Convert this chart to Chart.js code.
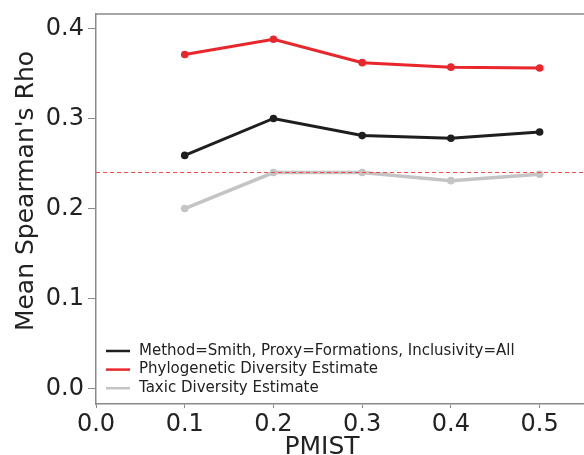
<!DOCTYPE html>
<html>
<head>
<meta charset="utf-8">
<script src="https://cdn.jsdelivr.net/npm/chart.js@4"></script>
<style>
  body { margin: 0; background: #fff; }
  canvas { display: block; }
</style>
</head>
<body>
<canvas id="Chart" width="584" height="455"></canvas>
<script>
// pmist values on the x axis
const pmist = [0.1, 0.2, 0.3, 0.4, 0.5]

// mean spearman's rho per series
const smithRho = [0.259, 0.300, 0.281, 0.278, 0.285]
const phyloRho = [0.371, 0.388, 0.362, 0.357, 0.356]
const taxicRho = [0.200, 0.240, 0.240, 0.231, 0.238]

const seriesLabels = [
    'Method=Smith, Proxy=Formations, Inclusivity=All',
    'Phylogenetic Diversity Estimate',
    'Taxic Diversity Estimate'
]
const seriesColors = ['#1e1e1e', '#e8262b', '#c4c4c4']

// dashed reference level
const refRho = 0.240

const xTitle = 'PMIST'
const yTitle = "Mean Spearman's Rho"

const axisGrey = '#8a8a8a'
const FONT = "'DejaVu Sans', Verdana, sans-serif"

function toPoints(ys) {
    return pmist.map((x, i) => ({x: x, y: ys[i]}))
}

function makeSet(label, ys, color, width) {
    return {
        label: label,
        data: toPoints(ys),
        borderColor: color,
        backgroundColor: color,
        borderWidth: width,
        pointRadius: 3.8,
        pointBorderWidth: 0,
        pointHoverRadius: 3.8,
        tension: 0
    }
}

// fixed axis box, no extra room for label overhang
function fixBox(size) {
    return function(scale) {
        if (scale.isHorizontal()) scale.height = size
        else scale.width = size
        scale.paddingTop = 0
        scale.paddingBottom = 0
        scale.paddingLeft = 0
        scale.paddingRight = 0
    }
}

// top frame, dashed reference line, legend and axis titles
const extras = {
    id: 'extras',
    afterDatasetsDraw(chart) {
        const ctx = chart.ctx
        const a = chart.chartArea
        const yPix = chart.scales.y.getPixelForValue(refRho)
        ctx.save()
        ctx.strokeStyle = '#ff4545'
        ctx.lineWidth = 1.2
        ctx.setLineDash([4, 3])
        ctx.beginPath()
        ctx.moveTo(a.left, yPix)
        ctx.lineTo(a.right, yPix)
        ctx.stroke()
        ctx.restore()
    },
    afterDraw(chart) {
        const ctx = chart.ctx
        const a = chart.chartArea
        ctx.save()
        ctx.strokeStyle = axisGrey
        ctx.lineWidth = 1.5
        ctx.beginPath()
        ctx.moveTo(a.left, a.top)
        ctx.lineTo(a.right, a.top)
        ctx.stroke()

        // legend in the lower left of the plot
        ctx.font = '15px ' + FONT
        ctx.textBaseline = 'middle'
        ctx.textAlign = 'left'
        chart.data.datasets.forEach((ds, i) => {
            const y = a.bottom - 53 + i * 18.6
            ctx.strokeStyle = ds.borderColor
            ctx.lineWidth = 2.5
            ctx.beginPath()
            ctx.moveTo(a.left + 10, y)
            ctx.lineTo(a.left + 34, y)
            ctx.stroke()
            ctx.fillStyle = '#222'
            ctx.fillText(ds.label, a.left + 43, y)
        })

        // axis titles
        ctx.fillStyle = '#222'
        ctx.font = '25px ' + FONT
        ctx.textBaseline = 'alphabetic'
        ctx.textAlign = 'center'
        ctx.fillText(xTitle, a.left + 226, chart.height - 1)
        ctx.translate(33, a.top + 177)
        ctx.rotate(-Math.PI / 2)
        ctx.fillText(yTitle, 0, 0)
        ctx.restore()
    }
}

const ctx = document.getElementById('Chart').getContext('2d')
const myChart = new Chart(ctx, {
    type: 'line',
    data: {
        datasets: [
            makeSet(seriesLabels[0], smithRho, seriesColors[0], 3),
            makeSet(seriesLabels[1], phyloRho, seriesColors[1], 3),
            makeSet(seriesLabels[2], taxicRho, seriesColors[2], 3.5)
        ]
    },
    options: {
        responsive: false,
        animation: false,
        layout: {autoPadding: false, padding: {top: 14, right: 0, left: 0, bottom: 0}},
        plugins: {
            legend: {display: false},
            tooltip: {enabled: false}
        },
        scales: {
            x: {
                type: 'linear',
                min: 0,
                max: 0.55,
                afterFit: fixBox(51),
                border: {color: axisGrey, width: 1.5},
                grid: {drawOnChartArea: false, color: axisGrey, tickLength: 4},
                ticks: {
                    stepSize: 0.1,
                    includeBounds: false,
                    padding: 2,
                    color: '#222',
                    font: {family: FONT, size: 24},
                    callback: v => v.toFixed(1)
                }
            },
            y: {
                min: -0.017,
                max: 0.416,
                afterFit: fixBox(96),
                border: {color: axisGrey, width: 1.5},
                grid: {drawOnChartArea: false, color: axisGrey, tickLength: 8},
                ticks: {
                    stepSize: 0.1,
                    includeBounds: false,
                    padding: 4,
                    color: '#222',
                    font: {family: FONT, size: 24},
                    callback: v => v.toFixed(1)
                }
            }
        }
    },
    plugins: [extras]
})
</script>
</body>
</html>
